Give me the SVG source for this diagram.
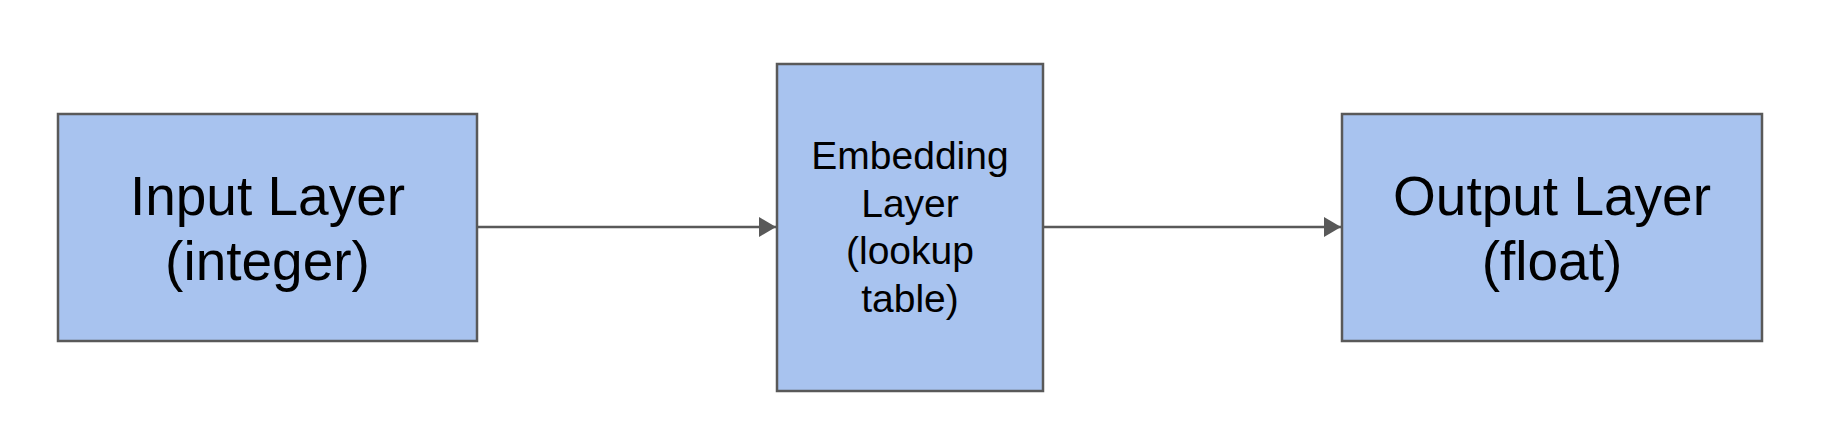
<svg xmlns="http://www.w3.org/2000/svg" width="1842" height="444" viewBox="0 0 1842 444">
<style>
.box{fill:#a8c3ef;stroke:#595959;stroke-width:2.5}
.t{font-family:"Liberation Sans",Arial,sans-serif;fill:#000;text-anchor:middle}
.big{font-size:55px}
.mid{font-size:39px}
.conn{stroke:#595959;stroke-width:2.5;fill:none}
</style>
<defs>
<marker id="arr" markerUnits="userSpaceOnUse" markerWidth="18" markerHeight="20" refX="17" refY="10" orient="auto">
<path d="M0,0 L17,10 L0,20 Z" fill="#595959"/>
</marker>
</defs>
<rect width="1842" height="444" fill="#fff"/>
<g id="connectors">
<line class="conn" x1="477" y1="227" x2="776" y2="227" marker-end="url(#arr)"/>
<line class="conn" x1="1043" y1="227" x2="1341" y2="227" marker-end="url(#arr)"/>
</g>
<g id="input">
<rect class="box" x="58" y="114" width="419" height="227"/>
<text class="t big" x="267.5" y="215">Input Layer</text>
<text class="t big" x="267.5" y="280">(integer)</text>
</g>
<g id="embedding">
<rect class="box" x="777" y="64" width="266" height="327"/>
<text class="t mid" x="910" y="169">Embedding</text>
<text class="t mid" x="910" y="217">Layer</text>
<text class="t mid" x="910" y="264">(lookup</text>
<text class="t mid" x="910" y="312">table)</text>
</g>
<g id="output">
<rect class="box" x="1342" y="114" width="420" height="227"/>
<text class="t big" x="1552" y="215">Output Layer</text>
<text class="t big" x="1552" y="280">(float)</text>
</g>
</svg>
